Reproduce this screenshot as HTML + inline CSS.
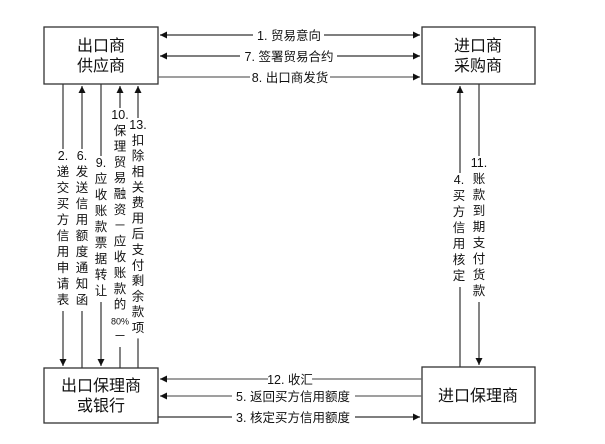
<!DOCTYPE html>
<html><head><meta charset="utf-8"><style>
html,body{margin:0;padding:0;background:#fff;}
svg{display:block;font-family:"Liberation Sans","Noto Sans CJK SC",sans-serif;}
</style></head><body>
<svg width="605" height="444" viewBox="0 0 605 444" xmlns="http://www.w3.org/2000/svg">
<defs>
<marker id="a" viewBox="0 0 10 10" refX="10" refY="5" markerWidth="9" markerHeight="7" markerUnits="userSpaceOnUse" orient="auto-start-reverse"><path d="M0,0 L10,5 L0,10 z" fill="#111"/></marker>
</defs>
<g fill="#fff" stroke="#333" stroke-width="1.3">
<rect x="44" y="27" width="114" height="57"/>
<rect x="422" y="27" width="113" height="57"/>
<rect x="44" y="368" width="114" height="55"/>
<rect x="422" y="367" width="113" height="56"/>
</g>
<g font-size="16" fill="#111" text-anchor="middle">
<text x="101" y="51">出口商</text><text x="101" y="71">供应商</text>
<text x="478" y="51">进口商</text><text x="478" y="71">采购商</text>
<text x="101" y="391">出口保理商</text><text x="101" y="411">或银行</text>
<text x="478" y="401">进口保理商</text>
</g>
<g stroke="#333" stroke-width="1.2" fill="none">
<line x1="160" y1="35" x2="420" y2="35" marker-start="url(#a)" marker-end="url(#a)"/>
<line x1="160" y1="56" x2="420" y2="56" marker-start="url(#a)" marker-end="url(#a)"/>
<line x1="158" y1="77" x2="420" y2="77" marker-end="url(#a)" stroke="#666"/>
<line x1="422" y1="379" x2="160" y2="379" marker-end="url(#a)" stroke="#666"/>
<line x1="422" y1="396" x2="160" y2="396" marker-end="url(#a)" stroke="#666"/>
<line x1="158" y1="417" x2="420" y2="417" marker-end="url(#a)"/>
<line x1="63" y1="84" x2="63" y2="366" marker-end="url(#a)"/>
<line x1="82" y1="368" x2="82" y2="86" marker-end="url(#a)"/>
<line x1="101" y1="84" x2="101" y2="366" marker-end="url(#a)"/>
<line x1="120" y1="368" x2="120" y2="86" marker-end="url(#a)"/>
<line x1="138" y1="368" x2="138" y2="86" marker-end="url(#a)"/>
<line x1="460" y1="367" x2="460" y2="86" marker-end="url(#a)"/>
<line x1="479" y1="84" x2="479" y2="365" marker-end="url(#a)"/>
</g>
<g font-size="12.5" fill="#111" text-anchor="middle">
<rect x="253" y="27" width="71" height="16" fill="#fff"/><text x="289" y="40">1. 贸易意向</text>
<rect x="240" y="48" width="97" height="16" fill="#fff"/><text x="289" y="61">7. 签署贸易合约</text>
<rect x="250" y="69" width="80" height="16" fill="#fff"/><text x="290" y="82">8. 出口商发货</text>
<rect x="268" y="371" width="44" height="16" fill="#fff"/><text x="290" y="384">12. 收汇</text>
<rect x="232" y="388" width="123" height="16" fill="#fff"/><text x="293" y="401">5. 返回买方信用额度</text>
<rect x="232" y="409" width="123" height="16" fill="#fff"/><text x="293" y="422">3. 核定买方信用额度</text>
</g>
<g font-size="12.5" fill="#111" text-anchor="middle" id="v"></g>
<script>
(function(){
var g=document.getElementById('v');var ns='http://www.w3.org/2000/svg';
function col(x,y0,items,step){
 var r=document.createElementNS(ns,'rect');r.setAttribute('x',x-7);r.setAttribute('y',y0-11);r.setAttribute('width',14);r.setAttribute('height',items.length*step+2);r.setAttribute('fill','#fff');g.appendChild(r);
 items.forEach(function(c,i){var t=document.createElementNS(ns,'text');t.setAttribute('x',x);t.setAttribute('y',y0+i*step);
 if(c==='80%'){t.setAttribute('font-size','9');}t.textContent=c;g.appendChild(t);});
}
col(63,160,['2.','递','交','买','方','信','用','申','请','表'],16);
col(82,160,['6.','发','送','信','用','额','度','通','知','函'],16);
col(101,167,['9.','应','收','账','款','票','据','转','让'],16);
col(120,119,['10.','保','理','贸','易','融','资','－','应','收','账','款','的','80%','－'],15.8);
col(138,129,['13.','扣','除','相','关','费','用','后','支','付','剩','余','款','项'],15.6);
col(459,184,['4.','买','方','信','用','核','定'],16);
col(479,167,['11.','账','款','到','期','支','付','货','款'],16);
})();
</script>
</svg>
</body></html>
